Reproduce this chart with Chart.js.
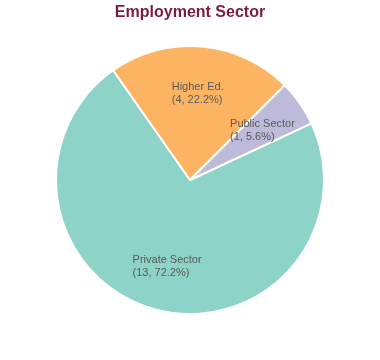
<!DOCTYPE html>
<html lang="en">
<head>
    <meta charset="UTF-8">
    <title>Employment Sector</title>
    <script src="https://cdn.jsdelivr.net/npm/chart.js"></script>
    <style>
        body { margin: 0; background: #fff; }
        .wrap { width: 380px; height: 360px; position: relative; }
    </style>
</head>
<body>
<div class="wrap"><canvas id="pieChart"></canvas></div>
<script>
    const sectors = ['Private Sector', 'Higher Ed.', 'Public Sector'];
    const counts = [13, 4, 1];
    const sliceColors = ['#8dd3c7', '#fdb462', '#bebada'];

    const total = counts.reduce((a, b) => a + b, 0);

    // label inside each slice: name + (count, pct)
    const sliceLabels = {
        id: 'sliceLabels',
        afterDatasetsDraw(chart) {
            const ctx = chart.ctx;
            const meta = chart.getDatasetMeta(0);
            ctx.save();
            ctx.font = '11px "Liberation Sans", Arial, sans-serif';
            ctx.fillStyle = '#5a5a5a';
            ctx.textAlign = 'left';
            ctx.textBaseline = 'middle';
            meta.data.forEach((arc, i) => {
                const p = arc.getProps(['x', 'y', 'startAngle', 'endAngle', 'outerRadius'], true);
                const mid = (p.startAngle + p.endAngle) / 2;
                const r = p.outerRadius * 0.66;
                const cx = p.x + Math.cos(mid) * r;
                const cy = p.y + Math.sin(mid) * r;
                const pct = (counts[i] / total * 100).toFixed(1);
                const lines = [sectors[i], '(' + counts[i] + ', ' + pct + '%)'];
                const w = Math.max(...lines.map(l => ctx.measureText(l).width));
                ctx.fillText(lines[0], cx - w / 2, cy - 5);
                ctx.fillText(lines[1], cx - w / 2, cy + 8);
            });
            ctx.restore();
        }
    };

    new Chart(document.getElementById('pieChart'), {
        type: 'pie',
        data: {
            labels: sectors,
            datasets: [{
                data: counts,
                backgroundColor: sliceColors,
                borderColor: '#ffffff',
                borderWidth: 2
            }]
        },
        options: {
            responsive: true,
            maintainAspectRatio: false,
            animation: false,
            rotation: 65,
            layout: { padding: { top: 0, bottom: 45, left: 0, right: 0 } },
            plugins: {
                legend: { display: false },
                tooltip: { enabled: false },
                title: {
                    display: true,
                    text: 'Employment Sector',
                    color: '#7b1c3e',
                    font: { family: '"Liberation Sans", Arial, sans-serif', size: 16, weight: 'bold', lineHeight: 1.2 },
                    padding: { top: 3, bottom: 22.8 }
                }
            }
        },
        plugins: [sliceLabels]
    });
</script>
</body>
</html>
